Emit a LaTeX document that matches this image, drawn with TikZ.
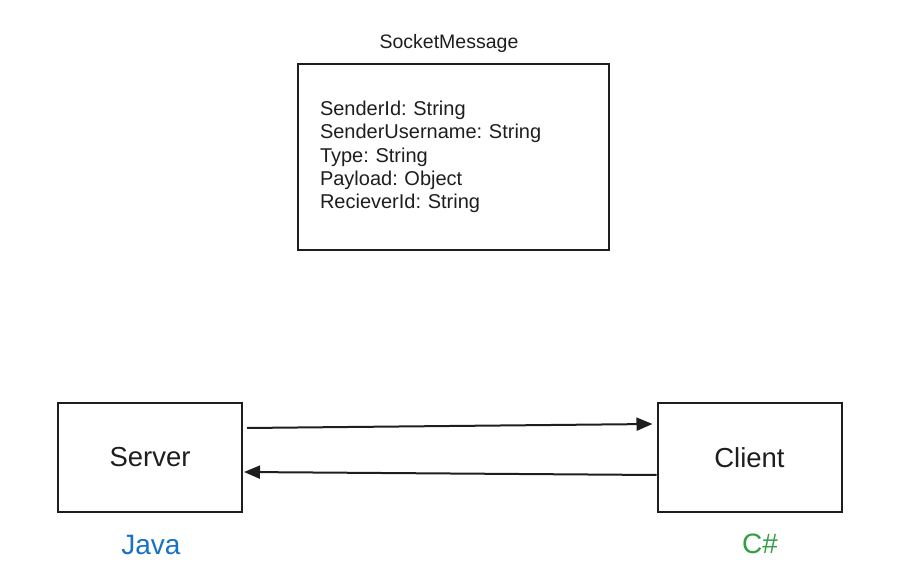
\documentclass[tikz,border=0pt]{standalone}
\usepackage{fontspec}
\setmainfont{Liberation Sans}
\usetikzlibrary{positioning,arrows.meta}
\definecolor{ink}{HTML}{1E1E1E}
\definecolor{javablue}{HTML}{1971C2}
\definecolor{csgreen}{HTML}{2F9E44}
\frenchspacing
\begin{document}
\begin{tikzpicture}[x=1pt,y=-1pt,
    box/.style={draw=ink,line width=2pt,minimum width=184pt,minimum height=109pt,
      inner sep=0pt,text=ink,font=\fontsize{27.5}{31}\selectfont},
    msgbox/.style={draw=ink,line width=2pt,minimum height=186pt,inner xsep=22pt,
      text width=267pt,align=left,text=ink,font=\fontsize{20}{23.2}\selectfont},
    lang/.style={font=\fontsize{28}{32}\selectfont},
    arr/.style={draw=ink,line width=2pt,-{Triangle[length=16pt,width=13pt]}}]
  \useasboundingbox (0,0) rectangle (898,585);
  % message format
  \node[msgbox] (msg) at (453.5,157) {SenderId: String\\
    SenderUsername: String\\
    Type: String\\
    Payload: Object\\
    RecieverId: String};
  \node[font=\fontsize{19.5}{22}\selectfont,text=ink] (title) at (449,43) {SocketMessage};
  % endpoints
  \node[box] (server) at (150,457.5) {Server};
  \node[box] (client) at (749.5,457.5) {Client};
  \node[lang,text=javablue] (java) at (151,545) {Java};
  \node[lang,text=csgreen] (csharp) at (760,544) {C\#};
  \begin{scope}[arr]
    \draw ([shift={(4,-29.5)}]server.east) to ([shift={(-4,-33.5)}]client.west);
    \draw ([shift={(0,17.5)}]client.west) to ([shift={(1,14.5)}]server.east);
  \end{scope}
\end{tikzpicture}
\end{document}
